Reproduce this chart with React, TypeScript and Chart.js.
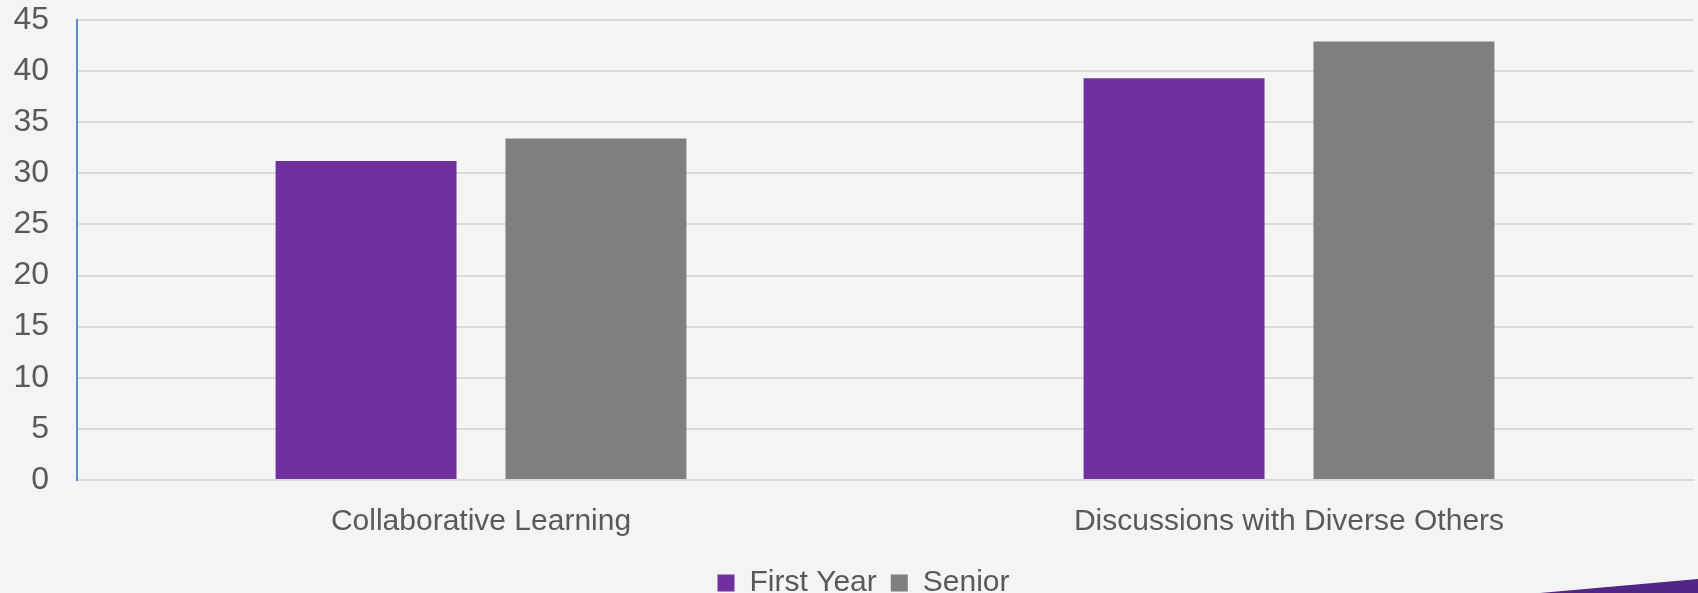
import React, { useEffect, useRef } from "react";
import { Chart, registerables } from "chart.js";

Chart.register(...registerables);

const categories = ["Collaborative Learning", "Discussions with Diverse Others"];
const firstYear = [31.2, 39.3];
const senior = [33.4, 42.9];
const seriesNames = ["First Year", "Senior"];
const yMin = 0;
const yMax = 45;
const yStep = 5;

const FONT = "'Liberation Sans', Arial, sans-serif";

const cornerShape = {
  id: "cornerShape",
  afterLayout(chart: any) {
    const lg = chart.legend;
    if (lg) {
      lg.left += 17;
      lg.right += 17;
      lg.top += 2;
      lg.bottom += 2;
    }
  },
  afterDraw(chart: any) {
    const ctx = chart.ctx;
    ctx.save();
    ctx.fillStyle = "#4f2683";
    ctx.beginPath();
    ctx.moveTo(1540, 593);
    ctx.lineTo(1698, 579);
    ctx.lineTo(1698, 593);
    ctx.closePath();
    ctx.fill();
    ctx.restore();
  },
};

export default function App() {
  const ref = useRef<HTMLCanvasElement>(null);
  useEffect(() => {
    const chart = new Chart(ref.current!, {
      type: "bar",
      data: {
        labels: categories,
        datasets: [
          {
            label: seriesNames[0],
            data: firstYear,
            backgroundColor: "#7030a0",
            categoryPercentage: 0.569,
            barPercentage: 0.787,
          },
          {
            label: seriesNames[1],
            data: senior,
            backgroundColor: "#7f7f7f",
            categoryPercentage: 0.569,
            barPercentage: 0.787,
          },
        ],
      },
      options: {
        animation: false,
        responsive: false,
        maintainAspectRatio: false,
        layout: { padding: { top: 0, right: 5, left: 0, bottom: 0 } },
        plugins: {
          tooltip: { enabled: false },
          legend: {
            position: "bottom",
            labels: {
              color: "#595959",
              font: { family: FONT, size: 30 },
              boxWidth: 17,
              boxHeight: 17,
              padding: 14,
            },
          },
        },
        scales: {
          x: {
            grid: { display: false },
            border: { color: "#d9d9d9", width: 2 },
            ticks: {
              color: "#595959",
              font: { family: FONT, size: 30 },
              padding: 16,
            },
            afterFit: (s: any) => {
              s.height = s.height - 4;
            },
          },
          y: {
            min: yMin,
            max: yMax,
            ticks: {
              stepSize: yStep,
              color: "#595959",
              font: { family: FONT, size: 32 },
              padding: 28,
            },
            grid: { color: "#d9d9d9", lineWidth: 2, drawTicks: false },
            border: { color: "#5b8bd0", width: 2 },
            afterFit: (s: any) => {
              s.width = 77;
              s.paddingTop = 20;
              s.paddingBottom = 0;
            },
          },
        },
      },
      plugins: [cornerShape],
    });
    return () => chart.destroy();
  }, []);
  return (
    <div
      style={{
        position: "absolute",
        left: 0,
        top: 0,
        width: 1698,
        height: 593,
        overflow: "hidden",
        background: "#f4f4f4",
      }}
    >
      <canvas ref={ref} width={1698} height={606} style={{ display: "block" }} />
    </div>
  );
}
